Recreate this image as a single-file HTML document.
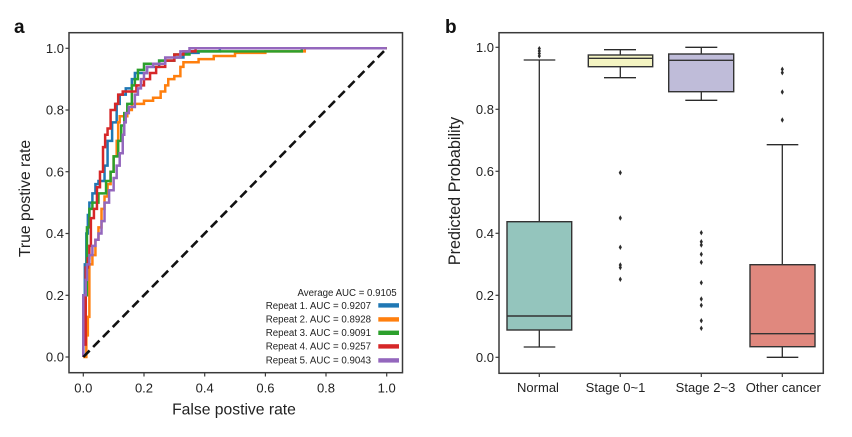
<!DOCTYPE html>
<html><head><meta charset="utf-8"><style>
html,body{margin:0;padding:0;background:#fff;}
svg{display:block;font-family:"Liberation Sans",Arial,sans-serif;}
</style></head><body>
<svg width="852" height="437" viewBox="0 0 852 437" xmlns="http://www.w3.org/2000/svg">
<rect width="852" height="437" fill="#fff"/>
<!-- Panel a -->
<text x="14" y="33" font-size="19" font-weight="bold" fill="#111">a</text>
<g transform="translate(83.3,357) scale(303.4,-308.7)" fill="none" stroke-width="2.5" stroke-linejoin="miter">
<polyline vector-effect="non-scaling-stroke" stroke="#1f77b4" points="0,0 0,0.2 0.005,0.2 0.005,0.3 0.01,0.3 0.01,0.4 0.015,0.4 0.015,0.46 0.02,0.46 0.02,0.5 0.03,0.5 0.03,0.53 0.04,0.53 0.04,0.56 0.05,0.56 0.05,0.57 0.07,0.57 0.07,0.62 0.08,0.62 0.08,0.7 0.095,0.7 0.095,0.76 0.11,0.76 0.11,0.82 0.12,0.82 0.12,0.85 0.14,0.85 0.14,0.87 0.16,0.87 0.16,0.9 0.17,0.9 0.17,0.92 0.21,0.92 0.21,0.94 0.25,0.94 0.25,0.96 0.3,0.96 0.3,0.97 0.33,0.97 0.33,0.985 0.38,0.985 0.38,0.99 0.45,0.99 0.45,1 1,1"/>
<polyline vector-effect="non-scaling-stroke" stroke="#ff7f0e" points="0,0 0.01,0 0.01,0.07 0.015,0.07 0.015,0.13 0.02,0.13 0.02,0.3 0.03,0.3 0.03,0.33 0.04,0.33 0.04,0.38 0.05,0.38 0.05,0.42 0.06,0.42 0.06,0.48 0.07,0.48 0.07,0.52 0.08,0.52 0.08,0.56 0.09,0.56 0.09,0.6 0.1,0.6 0.1,0.65 0.11,0.65 0.11,0.7 0.115,0.7 0.115,0.76 0.12,0.76 0.12,0.78 0.145,0.78 0.145,0.8 0.16,0.8 0.16,0.82 0.2,0.82 0.2,0.83 0.23,0.83 0.23,0.84 0.255,0.84 0.255,0.86 0.27,0.86 0.27,0.88 0.28,0.88 0.28,0.9 0.3,0.9 0.3,0.91 0.32,0.91 0.32,0.94 0.33,0.94 0.33,0.955 0.38,0.955 0.38,0.965 0.43,0.965 0.43,0.975 0.5,0.975 0.5,0.985 0.6,0.985 0.6,0.99 0.73,0.99 0.73,1 1,1"/>
<polyline vector-effect="non-scaling-stroke" stroke="#2ca02c" points="0,0 0,0.15 0.008,0.15 0.008,0.2 0.012,0.2 0.012,0.42 0.02,0.42 0.02,0.48 0.03,0.48 0.03,0.5 0.05,0.5 0.05,0.53 0.075,0.53 0.075,0.57 0.09,0.57 0.09,0.6 0.1,0.6 0.1,0.65 0.115,0.65 0.115,0.7 0.125,0.7 0.125,0.75 0.135,0.75 0.135,0.79 0.145,0.79 0.145,0.82 0.16,0.82 0.16,0.88 0.17,0.88 0.17,0.9 0.18,0.9 0.18,0.93 0.2,0.93 0.2,0.95 0.25,0.95 0.25,0.96 0.3,0.96 0.3,0.98 0.35,0.98 0.35,0.99 0.72,0.99 0.72,1 1,1"/>
<polyline vector-effect="non-scaling-stroke" stroke="#d62728" points="0,0 0,0.04 0.008,0.04 0.008,0.29 0.015,0.29 0.015,0.32 0.02,0.32 0.02,0.36 0.025,0.36 0.025,0.45 0.035,0.45 0.035,0.48 0.045,0.48 0.045,0.55 0.055,0.55 0.055,0.6 0.065,0.6 0.065,0.68 0.072,0.68 0.072,0.72 0.08,0.72 0.08,0.74 0.09,0.74 0.09,0.8 0.105,0.8 0.105,0.82 0.115,0.82 0.115,0.85 0.13,0.85 0.13,0.86 0.175,0.86 0.175,0.88 0.2,0.88 0.2,0.9 0.22,0.9 0.22,0.92 0.24,0.92 0.24,0.94 0.27,0.94 0.27,0.96 0.3,0.96 0.3,0.98 0.33,0.98 0.33,0.99 0.37,0.99 0.37,1 1,1"/>
<polyline vector-effect="non-scaling-stroke" stroke="#9467bd" points="0,0 0,0.2 0.008,0.2 0.008,0.25 0.012,0.25 0.012,0.3 0.02,0.3 0.02,0.33 0.03,0.33 0.03,0.36 0.04,0.36 0.04,0.38 0.05,0.38 0.05,0.4 0.06,0.4 0.06,0.44 0.07,0.44 0.07,0.5 0.085,0.5 0.085,0.54 0.1,0.54 0.1,0.58 0.11,0.58 0.11,0.62 0.12,0.62 0.12,0.66 0.13,0.66 0.13,0.72 0.135,0.72 0.135,0.76 0.14,0.76 0.14,0.79 0.15,0.79 0.15,0.81 0.17,0.81 0.17,0.85 0.18,0.85 0.18,0.87 0.19,0.87 0.19,0.9 0.2,0.9 0.2,0.92 0.21,0.92 0.21,0.94 0.23,0.94 0.23,0.95 0.27,0.95 0.27,0.97 0.32,0.97 0.32,0.99 0.35,0.99 0.35,1 1,1"/>
</g>
<line x1="83.3" y1="357" x2="386.7" y2="48.3" stroke="#111" stroke-width="2.6" stroke-dasharray="9,5"/>
<rect x="69" y="32.7" width="333.5" height="340" fill="none" stroke="#3a3a3a" stroke-width="1.5"/>
<g stroke="#3a3a3a" stroke-width="1.2">
<line x1="65.5" y1="48.3" x2="69" y2="48.3"/><line x1="65.5" y1="110" x2="69" y2="110"/><line x1="65.5" y1="171.7" x2="69" y2="171.7"/><line x1="65.5" y1="233.5" x2="69" y2="233.5"/><line x1="65.5" y1="295.3" x2="69" y2="295.3"/><line x1="65.5" y1="357" x2="69" y2="357"/>
<line x1="83.3" y1="372.7" x2="83.3" y2="376.5"/><line x1="144" y1="372.7" x2="144" y2="376.5"/><line x1="204.7" y1="372.7" x2="204.7" y2="376.5"/><line x1="265.4" y1="372.7" x2="265.4" y2="376.5"/><line x1="326" y1="372.7" x2="326" y2="376.5"/><line x1="386.7" y1="372.7" x2="386.7" y2="376.5"/>
</g>
<g font-size="13" fill="#222" text-anchor="end">
<text x="64" y="53">1.0</text><text x="64" y="114.7">0.8</text><text x="64" y="176.4">0.6</text><text x="64" y="238.2">0.4</text><text x="64" y="300">0.2</text><text x="64" y="361.7">0.0</text>
</g>
<g font-size="13" fill="#222" text-anchor="middle">
<text x="83.3" y="392.5">0.0</text><text x="144" y="392.5">0.2</text><text x="204.7" y="392.5">0.4</text><text x="265.4" y="392.5">0.6</text><text x="326" y="392.5">0.8</text><text x="386.7" y="392.5">1.0</text>
</g>
<text x="234" y="414.5" font-size="15.7" fill="#222" text-anchor="middle">False postive rate</text>
<text transform="translate(30,198.5) rotate(-90)" font-size="15.7" fill="#222" text-anchor="middle">True postive rate</text>
<g font-size="9.7" fill="#222" text-anchor="end">
<text x="396.7" y="295.8">Average AUC = 0.9105</text>
<text x="371" y="309">Repeat 1. AUC = 0.9207</text>
<text x="371" y="322.6">Repeat 2. AUC = 0.8928</text>
<text x="371" y="336">Repeat 3. AUC = 0.9091</text>
<text x="371" y="349.6">Repeat 4. AUC = 0.9257</text>
<text x="371" y="363.6">Repeat 5. AUC = 0.9043</text>
</g>
<rect x="378.3" y="303.2" width="20.7" height="4.4" fill="#1f77b4"/>
<rect x="378.3" y="317.2" width="20.7" height="4.4" fill="#ff7f0e"/>
<rect x="378.3" y="330.6" width="20.7" height="4.4" fill="#2ca02c"/>
<rect x="378.3" y="344.2" width="20.7" height="4.4" fill="#d62728"/>
<rect x="378.3" y="358.2" width="20.7" height="4.4" fill="#9467bd"/>

<!-- Panel b -->
<text x="445" y="33" font-size="19" font-weight="bold" fill="#111">b</text>
<g stroke="#2b2b2b" stroke-width="1.3" fill="none">
<line x1="539.3" y1="221.7" x2="539.3" y2="60"/><line x1="523.7" y1="60" x2="555.3" y2="60"/>
<line x1="539.3" y1="330" x2="539.3" y2="347"/><line x1="523.7" y1="347" x2="555.3" y2="347"/>
<line x1="620.3" y1="55" x2="620.3" y2="49.7"/><line x1="604" y1="49.7" x2="636" y2="49.7"/>
<line x1="620.3" y1="66.7" x2="620.3" y2="77.7"/><line x1="604" y1="77.7" x2="636" y2="77.7"/>
<line x1="701.3" y1="54" x2="701.3" y2="47.3"/><line x1="685.3" y1="47.3" x2="717.3" y2="47.3"/>
<line x1="701.3" y1="91.7" x2="701.3" y2="100.3"/><line x1="685.3" y1="100.3" x2="717.3" y2="100.3"/>
<line x1="782.3" y1="264.7" x2="782.3" y2="144.7"/><line x1="766.7" y1="144.7" x2="798.3" y2="144.7"/>
<line x1="782.3" y1="346.7" x2="782.3" y2="357.3"/><line x1="766.7" y1="357.3" x2="798.3" y2="357.3"/>
</g>
<g stroke="#333" stroke-width="1.4">
<rect x="507" y="221.7" width="64.7" height="108.3" fill="#94c5bd"/>
<line x1="507" y1="316" x2="571.7" y2="316"/>
<rect x="588.3" y="55" width="64.4" height="11.7" fill="#f4f4c2"/>
<line x1="588.3" y1="58.3" x2="652.7" y2="58.3"/>
<rect x="668.7" y="54" width="65" height="37.7" fill="#bfbcd9"/>
<line x1="668.7" y1="60.3" x2="733.7" y2="60.3"/>
<rect x="750" y="264.7" width="65" height="82" fill="#e0887e"/>
<line x1="750" y1="333.7" x2="815" y2="333.7"/>
</g>
<g fill="#2b2b2b">
<path d="M539.3,46 l1.6,2.5 -1.6,2.5 -1.6,-2.5z"/><path d="M539.3,48.5 l1.6,2.5 -1.6,2.5 -1.6,-2.5z"/><path d="M539.3,51 l1.6,2.5 -1.6,2.5 -1.6,-2.5z"/><path d="M539.3,53.5 l1.6,2.5 -1.6,2.5 -1.6,-2.5z"/>
<path d="M620.3,170 l1.6,2.7 -1.6,2.7 -1.6,-2.7z"/>
<path d="M620.3,215.3 l1.6,2.7 -1.6,2.7 -1.6,-2.7z"/>
<path d="M620.3,244.6 l1.6,2.7 -1.6,2.7 -1.6,-2.7z"/>
<path d="M620.3,262.3 l1.6,2.7 -1.6,2.7 -1.6,-2.7z"/>
<path d="M620.3,264.8 l1.6,2.7 -1.6,2.7 -1.6,-2.7z"/>
<path d="M620.3,276.6 l1.6,2.7 -1.6,2.7 -1.6,-2.7z"/>
<path d="M701.3,230 l1.6,2.7 -1.6,2.7 -1.6,-2.7z"/>
<path d="M701.3,239 l1.6,2.7 -1.6,2.7 -1.6,-2.7z"/>
<path d="M701.3,242.3 l1.6,2.7 -1.6,2.7 -1.6,-2.7z"/>
<path d="M701.3,251.6 l1.6,2.7 -1.6,2.7 -1.6,-2.7z"/>
<path d="M701.3,259.6 l1.6,2.7 -1.6,2.7 -1.6,-2.7z"/>
<path d="M701.3,280 l1.6,2.7 -1.6,2.7 -1.6,-2.7z"/>
<path d="M701.3,296.3 l1.6,2.7 -1.6,2.7 -1.6,-2.7z"/>
<path d="M701.3,302.6 l1.6,2.7 -1.6,2.7 -1.6,-2.7z"/>
<path d="M701.3,318 l1.6,2.7 -1.6,2.7 -1.6,-2.7z"/>
<path d="M701.3,325.6 l1.6,2.7 -1.6,2.7 -1.6,-2.7z"/>
<path d="M782.3,66.6 l1.6,2.7 -1.6,2.7 -1.6,-2.7z"/>
<path d="M782.3,70 l1.6,2.7 -1.6,2.7 -1.6,-2.7z"/>
<path d="M782.3,89.3 l1.6,2.7 -1.6,2.7 -1.6,-2.7z"/>
<path d="M782.3,117.3 l1.6,2.7 -1.6,2.7 -1.6,-2.7z"/>
</g>
<rect x="499" y="32.7" width="324.3" height="340.6" fill="none" stroke="#3a3a3a" stroke-width="1.5"/>
<g stroke="#3a3a3a" stroke-width="1.2">
<line x1="495.5" y1="47.3" x2="499" y2="47.3"/><line x1="495.5" y1="109.3" x2="499" y2="109.3"/><line x1="495.5" y1="171.3" x2="499" y2="171.3"/><line x1="495.5" y1="233.3" x2="499" y2="233.3"/><line x1="495.5" y1="295.3" x2="499" y2="295.3"/><line x1="495.5" y1="357.3" x2="499" y2="357.3"/>
<line x1="539.3" y1="373.3" x2="539.3" y2="377"/><line x1="620.3" y1="373.3" x2="620.3" y2="377"/><line x1="701.3" y1="373.3" x2="701.3" y2="377"/><line x1="782.3" y1="373.3" x2="782.3" y2="377"/>
</g>
<g font-size="13" fill="#222" text-anchor="end">
<text x="494" y="52">1.0</text><text x="494" y="114">0.8</text><text x="494" y="176">0.6</text><text x="494" y="238">0.4</text><text x="494" y="300">0.2</text><text x="494" y="362">0.0</text>
</g>
<g font-size="13" fill="#222" text-anchor="middle">
<text x="538" y="392">Normal</text><text x="615.5" y="392">Stage 0~1</text><text x="705.5" y="392">Stage 2~3</text><text x="783.3" y="392">Other cancer</text>
</g>
<text transform="translate(460,191) rotate(-90)" font-size="16.2" fill="#222" text-anchor="middle">Predicted Probability</text>
</svg>
</body></html>
